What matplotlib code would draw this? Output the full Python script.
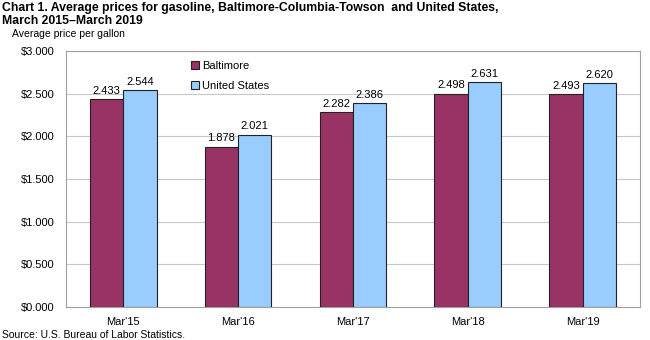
import numpy as np
import matplotlib
matplotlib.use('Agg')
import matplotlib.pyplot as plt
from matplotlib.ticker import FuncFormatter

plt.rcParams['font.family'] = ['Liberation Sans', 'DejaVu Sans']

categories = ["Mar'15", "Mar'16", "Mar'17", "Mar'18", "Mar'19"]
baltimore = [2.433, 1.878, 2.282, 2.498, 2.493]
us = [2.544, 2.021, 2.386, 2.631, 2.620]

fig = plt.figure(figsize=(6.5, 3.4), dpi=100)
ax = fig.add_axes([0.1015, 0.097, 0.883, 0.753])

x = np.arange(len(categories))
w = 0.29
b1 = ax.bar(x - w / 2, baltimore, w, color='#993366', edgecolor='#222222', linewidth=0.8,
            label='Baltimore', zorder=3)
b2 = ax.bar(x + w / 2, us, w, color='#99CCFF', edgecolor='#222222', linewidth=0.8,
            label='United States', zorder=3)

for rect, v in zip(list(b1) + list(b2), baltimore + us):
    ax.text(rect.get_x() + rect.get_width() / 2, v + 0.04, f'{v:.3f}',
            ha='center', va='bottom', fontsize=8)

ax.set_xlim(-0.5, len(categories) - 0.5)
ax.set_ylim(0, 3.0)
ax.set_yticks(np.arange(0, 3.01, 0.5))
ax.yaxis.set_major_formatter(FuncFormatter(lambda v, p: f'${v:.3f}'))
ax.set_xticks(x)
ax.set_xticklabels(categories)
ax.tick_params(axis='both', length=0, labelsize=8)
ax.tick_params(axis='y', pad=8)
ax.tick_params(axis='x', pad=7.5)
ax.grid(axis='y', color='#c8c8c8', linewidth=0.8, zorder=0)
for s in ax.spines.values():
    s.set_color('#a0a0a0')
    s.set_linewidth(0.8)

ax.legend(loc='upper left', bbox_to_anchor=(0.2, 1.0), frameon=False, fontsize=8,
          handlelength=0.7, handleheight=0.7, handletextpad=0.3, labelspacing=0.9)

fig.text(0.003, 0.995, 'Chart 1. Average prices for gasoline, Baltimore-Columbia-Towson  and United States,\nMarch 2015\u2013March 2019',
         ha='left', va='top', fontsize=8.8, fontweight='bold', linespacing=1.15)
fig.text(0.018, 0.885, 'Average price per gallon', ha='left', va='bottom', fontsize=7.5)
fig.text(0.003, 0.001, 'Source: U.S. Bureau of Labor Statistics.', ha='left', va='bottom', fontsize=7.5)

fig.savefig('out.png', dpi=100)
